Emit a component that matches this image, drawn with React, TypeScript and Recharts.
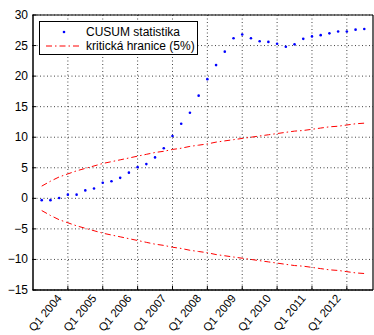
import React from 'react';
import { ComposedChart, Line, XAxis, YAxis, CartesianGrid, ReferenceLine } from 'recharts';

// quarter index 0 = Q1 2003 ... 39 = Q4 2012
const quarterIndex = [
  0, 1, 2, 3, 4, 5, 6, 7, 8, 9, 10, 11, 12, 13, 14, 15, 16, 17, 18, 19,
  20, 21, 22, 23, 24, 25, 26, 27, 28, 29, 30, 31, 32, 33, 34, 35, 36, 37, 38, 39,
];

const cusumValues: (number | null)[] = [
  null, -0.3, -0.3, 0.05, 0.6, 0.6, 1.3, 1.6, 2.55, 2.8,
  3.35, 4.2, 5.1, 5.6, 6.7, 8.2, 10.2, 12.2, 14.0, 16.8,
  19.5, 21.8, 24.0, 26.2, 26.8, 26.2, 25.7, 25.6, 25.3, 24.8,
  25.2, 26.1, 26.5, 26.7, 27.0, 27.3, 27.3, 27.6, 27.7, null,
];

const upperBound: (number | null)[] = [
  null, 2.0, 2.8, 3.5, 4.0, 4.5, 4.9, 5.3, 5.7, 6.0,
  6.3, 6.6, 6.9, 7.2, 7.5, 7.7, 8.0, 8.2, 8.5, 8.7,
  8.9, 9.2, 9.4, 9.6, 9.8, 10.0, 10.2, 10.4, 10.6, 10.8,
  11.0, 11.1, 11.3, 11.5, 11.7, 11.8, 12.0, 12.2, 12.3, null,
];

const lowerBound: (number | null)[] = [
  null, -2.0, -2.8, -3.5, -4.0, -4.5, -4.9, -5.3, -5.7, -6.0,
  -6.3, -6.6, -6.9, -7.2, -7.5, -7.7, -8.0, -8.2, -8.5, -8.7,
  -8.9, -9.2, -9.4, -9.6, -9.8, -10.0, -10.2, -10.4, -10.6, -10.8,
  -11.0, -11.1, -11.3, -11.5, -11.7, -11.8, -12.0, -12.2, -12.3, null,
];

const xTickPositions = [4, 8, 12, 16, 20, 24, 28, 32, 36];
const xTickLabels = [
  'Q1 2004', 'Q1 2005', 'Q1 2006', 'Q1 2007', 'Q1 2008',
  'Q1 2009', 'Q1 2010', 'Q1 2011', 'Q1 2012',
];
const yTicks = [-15, -10, -5, 0, 5, 10, 15, 20, 25, 30];

const seriesNames = ['CUSUM statistika', 'kritická hranice (5%)'];

const data = quarterIndex.map((q, i) => ({
  q,
  cusum: cusumValues[i],
  upper: upperBound[i],
  lower: lowerBound[i],
}));

const FONT = '"Liberation Sans", Arial, sans-serif';
const DASH = '6 3 1.5 3';

const fmtNum = (v: number) => (v < 0 ? '\u2212' + Math.abs(v) : String(v));

const LeftTick = (props: any) => {
  const { x, y, payload } = props;
  return (
    <g>
      <line x1={x + 4} x2={x + 8} y1={y} y2={y} stroke="#000" strokeWidth={1} />
      <text x={x} y={y} dy={4} textAnchor="end" fontSize={12} fontFamily={FONT} fill="#000">
        {fmtNum(payload.value)}
      </text>
    </g>
  );
};

const BottomTick = (props: any) => {
  const { x, y, payload } = props;
  const idx = xTickPositions.indexOf(payload.value);
  const label = idx >= 0 ? xTickLabels[idx] : '';
  const tx = x - 5.5;
  const ty = y + 6.5;
  return (
    <g>
      <line x1={x} x2={x} y1={y - 2} y2={y - 6} stroke="#000" strokeWidth={1} />
      <text
        x={tx}
        y={ty}
        textAnchor="end"
        fontSize={11.5}
        fontFamily={FONT}
        fill="#000"
        transform={`rotate(-50 ${tx} ${ty})`}
      >
        {label}
      </text>
    </g>
  );
};

const LegendBox = () => (
  <div
    style={{
      position: 'absolute',
      left: 39,
      top: 21,
      width: 157,
      height: 32,
      border: '1.5px solid #000',
      background: '#fff',
    }}
  >
    <svg width={157} height={32} style={{ display: 'block' }}>
      <circle cx={24} cy={10} r={1.3} fill="#0000ff" />
      <text x={46} y={14} fontSize={12} fontFamily={FONT} fill="#000">{seriesNames[0]}</text>
      <line x1={6} x2={42} y1={24} y2={24} stroke="#ff0000" strokeWidth={1} strokeDasharray={DASH} />
      <text x={46} y={28} fontSize={12} fontFamily={FONT} fill="#000">{seriesNames[1]}</text>
    </svg>
  </div>
);

export default function App() {
  return (
    <div style={{ position: 'absolute', left: 0, top: 0, width: 374, height: 335, background: '#fff' }}>
      <ComposedChart
        width={374}
        height={335}
        data={data}
        margin={{ top: 15, right: 1, bottom: 0, left: 0 }}
      >
        <CartesianGrid
          stroke="#444"
          strokeDasharray="1 2.5"
          horizontalValues={yTicks}
          verticalValues={xTickPositions}
        />
        <XAxis
          dataKey="q"
          type="number"
          domain={[0, 39]}
          ticks={xTickPositions}
          interval={0}
          height={45}
          tickLine={false}
          tickSize={0}
          axisLine={{ stroke: '#000', strokeWidth: 1.5 }}
          tick={<BottomTick />}
        />
        <YAxis
          type="number"
          domain={[-15, 30]}
          ticks={yTicks}
          interval={0}
          width={33}
          tickLine={false}
          tickSize={0}
          tickMargin={5}
          axisLine={{ stroke: '#000', strokeWidth: 1.5 }}
          tick={<LeftTick />}
        />
        <ReferenceLine y={30} stroke="#000" strokeWidth={1.2} />
        <ReferenceLine x={39} stroke="#000" strokeWidth={1.2} />
        <Line
          dataKey="upper"
          stroke="#ff0000"
          strokeWidth={1}
          strokeDasharray={DASH}
          dot={false}
          isAnimationActive={false}
        />
        <Line
          dataKey="lower"
          stroke="#ff0000"
          strokeWidth={1}
          strokeDasharray={DASH}
          dot={false}
          isAnimationActive={false}
        />
        <Line
          dataKey="cusum"
          stroke="none"
          dot={{ r: 1.3, fill: '#0000ff', stroke: 'none' }}
          isAnimationActive={false}
        />
      </ComposedChart>
      <LegendBox />
    </div>
  );
}
